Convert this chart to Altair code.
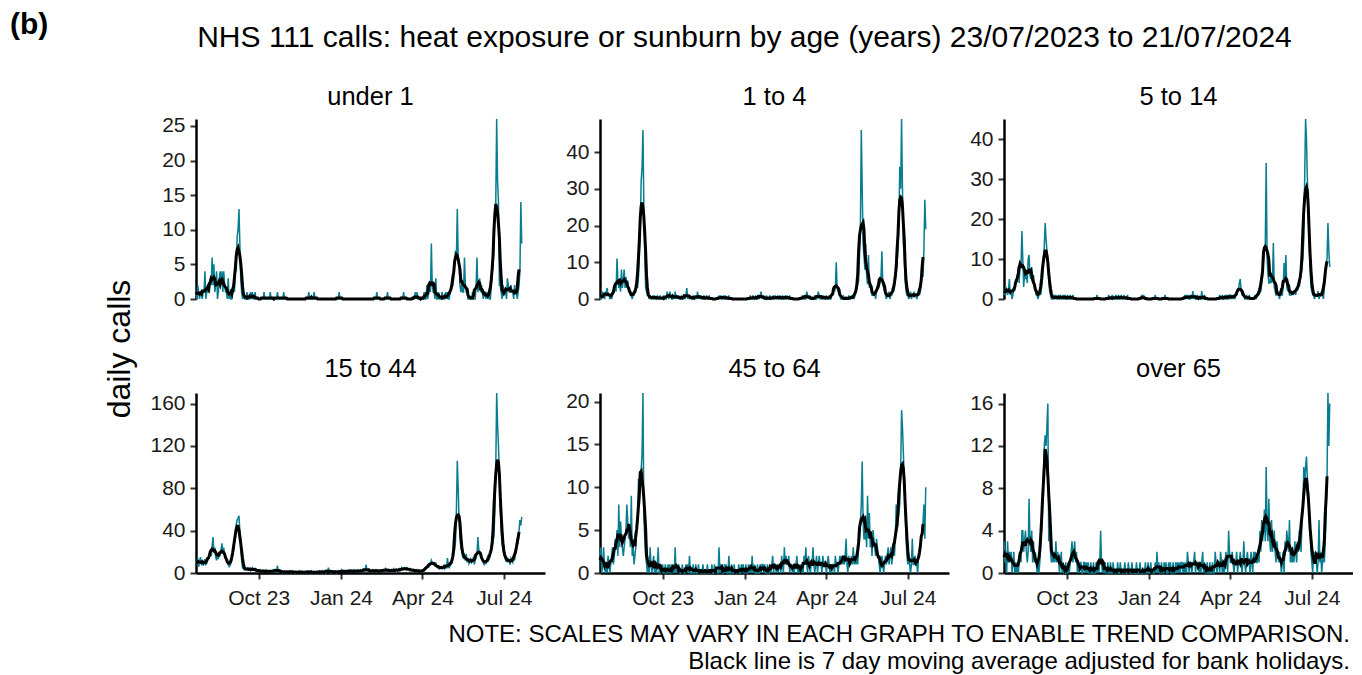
import altair as alt
import pandas as pd

FONT = "Liberation Sans"
TEAL = "#087d90"
START = "2023-07-23"

PANELS = ["under 1", "1 to 4", "5 to 14", "15 to 44", "45 to 64", "over 65"]
Y_TICKS = [
    [0, 5, 10, 15, 20, 25],
    [0, 10, 20, 30, 40],
    [0, 10, 20, 30, 40],
    [0, 40, 80, 120, 160],
    [0, 5, 10, 15, 20],
    [0, 4, 8, 12, 16],
]
X_TICKS = ["2023-10-01", "2024-01-01", "2024-04-01", "2024-07-01"]

# daily calls, 23/07/2023 .. 21/07/2024 (one row per week)
UNDER_1 = """
1 0 2 1 0 1 1
0 1 1 4 0 1 1
2 1 3 2 6 2 5
1 2 4 0 1 3 4
2 4 1 4 2 1 1
0 3 0 1 0 0 1
2 1 5 4 9 10 13
8 3 1 0 1 0 0
0 1 0 0 0 1 0
1 0 0 1 0 0 0
0 0 0 0 0 0 1
0 0 0 0 0 0 1
0 0 0 0 0 0 0
1 0 0 0 0 0 0
1 0 0 0 0 0 0
0 0 0 0 0 0 0
0 0 0 0 0 0 0
0 0 0 0 0 0 0
1 0 0 0 0 0 1
0 0 0 0 0 0 0
0 0 0 0 0 0 0
0 0 0 0 0 0 0
0 0 0 0 0 0 1
0 0 0 0 0 0 0
0 0 0 0 0 0 0
0 0 0 0 0 0 0
0 0 0 0 0 0 0
0 0 0 0 0 0 0
0 0 0 0 0 0 1
0 0 0 0 0 0 0
0 0 0 0 1 0 0
0 0 0 0 0 0 0
0 0 0 0 0 0 0
0 1 0 0 0 0 0
0 0 0 0 0 0 0
1 0 1 0 0 0 0
0 0 0 1 0 0 2
0 1 2 1 8 2 1
1 0 3 0 0 1 0
0 0 1 0 0 0 1
0 1 0 0 1 2 2
2 3 5 7 6 13 6
5 2 1 2 1 1 6
2 1 1 0 0 0 0
0 1 0 0 0 2 6
1 2 3 1 2 1 0
1 1 0 1 0 1 0
0 2 4 5 8 12 14
26 17 14 2 2 1 0
2 1 1 1 0 3 2
1 1 2 1 1 0 2
1 1 0 1 2 4 14
8
"""

AGE_1_4 = """
0 1 0 2 1 0 1
2 3 1 1 0 1 0
1 2 3 4 2 11 5
3 4 2 8 3 5 8
3 6 4 5 2 2 1
1 0 1 1 2 3 4
3 6 12 20 32 36 46
25 13 3 2 1 1 0
1 0 0 1 0 1 0
0 1 0 0 1 0 0
0 1 0 0 0 2 1
0 2 1 0 0 1 0
2 0 1 0 1 0 0
1 0 0 1 0 1 3
0 1 0 1 0 0 1
0 0 1 0 2 0 1
0 1 0 0 1 0 0
1 0 0 1 0 0 0
0 0 0 0 0 0 0
1 0 1 0 0 1 0
1 0 0 0 1 0 0
0 0 0 0 0 0 0
0 0 0 0 0 0 0
0 0 0 0 0 0 0
1 0 0 1 0 0 1
0 0 1 0 1 2 0
1 0 0 0 1 0 0
0 1 0 0 0 1 0
1 0 0 1 0 1 0
0 1 0 0 1 0 1
0 0 1 0 0 0 0
0 0 0 0 0 0 0
0 0 1 0 1 0 0
2 1 0 1 0 0 0
0 0 1 0 0 1 2
1 0 0 1 0 1 0
0 1 0 0 1 0 0
1 1 3 2 3 10 3
2 2 1 0 0 0 1
0 0 0 0 0 1 0
0 1 0 1 0 1 2
3 4 5 12 20 46 30
15 12 8 15 6 4 12
3 4 2 1 1 1 2
0 2 4 3 5 4 6
13 4 3 2 1 0 1
1 2 0 1 1 3 2
3 5 7 10 14 20 36
30 49 30 15 12 5 2
1 1 0 1 2 0 1
1 2 1 1 0 1 2
1 2 4 8 6 14 27
19
"""

AGE_5_14 = """
2 1 3 2 1 2 5
1 2 0 1 3 2 5
4 6 8 4 9 8 17
10 3 6 5 6 4 10
11 6 5 8 4 6 3
2 1 1 0 1 2 1
3 5 10 13 19 15 12
10 5 2 1 0 0 0
1 0 1 0 0 1 0
1 0 0 1 0 1 0
0 1 0 0 1 0 0
1 0 0 0 0 0 0
0 0 0 0 0 0 0
0 0 0 0 0 0 0
0 0 0 0 0 0 1
0 0 0 0 0 0 0
0 0 0 0 0 1 0
0 0 1 0 0 0 1
0 0 1 0 0 1 0
0 1 0 0 0 1 0
0 0 0 0 0 0 0
0 0 0 0 0 0 0
1 0 1 0 0 0 0
0 0 0 0 0 0 0
0 1 0 0 0 0 0
0 0 0 0 0 1 0
0 0 0 0 0 0 0
0 0 0 0 0 0 0
0 0 0 0 0 0 1
0 1 0 1 0 0 1
0 2 0 1 0 0 1
0 0 0 0 2 0 0
1 0 0 0 0 0 0
0 0 0 0 0 0 0
0 0 0 1 0 0 1
0 0 1 0 1 0 0
1 1 0 1 0 1 0
1 1 2 2 4 5 2
1 1 1 0 0 1 0
0 1 0 0 0 0 0
0 1 0 1 2 1 2
2 4 6 10 12 14 34
10 6 4 4 6 4 5
14 3 2 1 1 2 1
0 2 1 1 3 9 4
11 3 2 4 1 1 1
2 1 2 2 1 3 2
4 3 5 6 8 10 15
30 45 40 30 22 14 8
3 2 1 1 0 1 1
1 2 0 1 1 2 1
0 3 5 9 10 19 12
8
"""

AGE_15_44 = """
12 8 14 6 10 15 9
11 7 10 13 8 9 12
14 18 22 16 25 34 20
24 15 12 18 13 20 16
22 28 18 24 17 14 12
10 8 6 7 9 12 18
22 30 38 46 50 52 54
40 28 12 5 4 3 4
3 4 5 3 4 2 3
5 4 3 2 4 3 2
2 1 3 2 1 2 1
2 3 1 2 1 2 1
1 2 3 1 2 1 2
7 1 2 1 1 2 0
1 2 1 0 1 1 2
1 0 1 2 1 1 0
1 1 0 1 2 0 1
1 0 1 1 0 1 2
1 1 0 2 1 0 1
0 1 1 0 1 2 1
1 0 2 1 1 0 1
2 5 1 1 0 1 2
1 2 1 0 1 1 2
1 1 3 1 2 1 1
2 1 2 3 1 2 1
2 3 1 2 1 2 3
1 2 3 2 1 3 2
2 8 3 2 1 2 3
2 1 3 2 2 3 1
2 3 2 1 2 3 2
3 2 4 2 3 2 3
2 3 1 2 4 3 2
3 2 3 4 2 3 5
3 4 5 4 3 5 4
3 2 4 3 2 3 2
2 3 1 2 3 2 1
2 1 3 2 4 5 6
7 6 9 8 12 10 9
8 7 10 6 5 6 4
5 6 4 5 7 4 6
5 14 6 5 7 8 10
14 18 22 30 60 106 80
50 35 24 20 15 14 16
12 18 10 14 9 11 13
10 12 15 8 12 14 18
34 22 20 16 14 12 10
8 10 9 12 15 12 14
18 22 25 30 35 60 100
170 140 120 95 64 40 28
22 18 15 12 14 10 13
11 8 14 12 10 15 12
18 25 30 28 40 50 45
53
"""

AGE_45_64 = """
2 3 0 1 3 1 0
1 0 2 1 0 1 2
3 1 2 4 3 5 2
8 3 6 4 3 2 3
4 5 8 6 4 5 3
9 2 3 1 2 3 5
6 11 8 10 12 14 21
7 4 2 1 0 1 0
3 1 0 1 2 0 1
0 1 3 0 0 1 0
1 0 0 1 0 0 1
0 1 0 0 0 1 0
3 0 1 0 1 0 0
0 1 0 0 0 1 0
1 0 2 0 0 0 1
0 0 1 0 0 1 0
0 0 0 1 0 0 0
0 1 0 0 0 0 1
0 0 1 0 0 0 0
3 0 1 0 0 0 1
0 1 0 0 2 0 0
1 0 0 1 0 0 0
0 1 0 0 1 0 1
0 0 1 0 0 1 0
1 0 2 0 1 0 0
0 1 0 0 1 0 1
1 0 1 0 0 1 0
0 1 0 1 2 0 1
1 0 1 0 1 1 0
2 1 0 3 1 2 1
1 2 0 1 1 0 1
0 1 1 2 0 1 0
1 0 1 0 2 1 3
1 0 2 1 0 1 1
3 1 0 1 2 0 1
2 1 1 0 2 1 1
1 0 1 2 1 0 1
0 1 1 0 2 1 1
0 1 2 1 2 1 2
1 2 4 1 0 2 1
1 2 1 3 1 2 1
2 1 3 4 6 8 13
6 4 4 5 3 9 4
7 3 4 2 5 4 3
2 4 3 2 1 0 1
2 1 0 1 2 1 2
3 1 2 3 1 2 3
2 4 8 5 6 7 8
12 19 17 14 11 8 4
2 1 2 1 0 1 4
1 1 2 1 1 0 2
2 3 4 5 6 8 4
10
"""

OVER_65 = """
3 1 2 0 3 1 2
1 2 0 1 2 0 1
0 1 0 1 2 1 4
4 2 3 4 2 1 2
7 3 2 4 1 3 1
2 1 0 1 0 1 3
4 6 9 12 13 12 14
16 3 4 2 1 2 1
2 1 3 1 2 1 0
1 2 0 1 0 0 1
0 0 1 0 1 2 3
1 2 3 1 2 0 1
0 1 1 0 0 1 1
0 1 0 1 0 0 1
0 0 1 0 0 1 0
1 0 1 4 1 0 1
0 1 0 0 1 0 0
1 0 0 1 0 0 0
0 1 0 0 1 0 0
0 0 1 0 0 0 1
0 0 0 1 0 0 0
0 1 0 0 0 1 0
0 0 0 0 1 0 0
1 0 0 1 0 0 0
0 1 0 2 0 1 0
0 1 0 0 1 0 1
0 0 1 0 1 0 0
1 0 0 1 0 1 0
1 0 1 1 0 1 0
1 0 2 1 0 1 1
0 1 1 2 0 1 1
1 0 1 0 1 2 0
1 0 0 1 0 0 1
0 0 1 0 0 2 1
0 1 1 0 2 1 0
1 0 1 2 1 0 4
2 1 1 2 1 0 1
1 2 0 1 1 2 1
0 1 3 1 0 1 2
1 1 0 2 1 0 2
1 2 1 1 2 1 4
2 5 3 4 6 3 10
4 3 7 3 2 5 2
3 4 2 1 3 2 1
2 1 0 1 2 0 3
2 4 3 2 5 1 2
1 2 1 3 2 1 3
2 4 3 2 5 6 10
8 10 11 9 8 6 4
2 1 0 2 1 2 1
0 1 5 1 2 0 1
2 1 3 6 9 17 12
16
"""

SERIES = [UNDER_1, AGE_1_4, AGE_5_14, AGE_15_44, AGE_45_64, OVER_65]

TITLE = "NHS 111 calls: heat exposure or sunburn by age (years) 23/07/2023 to 21/07/2024"
NOTE_1 = "NOTE: SCALES MAY VARY IN EACH GRAPH TO ENABLE TREND COMPARISON."
NOTE_2 = "Black line is 7 day moving average adjusted for bank holidays."

W, H = 349, 180
dates = pd.date_range(START, periods=365, freq="D")
date_str = [d.strftime("%Y-%m-%dT00:00:00Z") for d in dates]


def utc(s):
    y, m, d = (int(p) for p in s.split("-"))
    return alt.DateTime(year=y, month=m, date=d, utc=True)


def label(text, x, y, size, weight="normal", align="center", baseline="alphabetic", angle=0):
    return alt.Chart(pd.DataFrame({"t": [text]})).mark_text(
        align=align, baseline=baseline, fontSize=size, fontWeight=weight,
        font=FONT, color="#000000", angle=angle,
    ).encode(text="t:N", x=alt.value(x), y=alt.value(y))


panels = []
for i, (name, raw, ticks) in enumerate(zip(PANELS, SERIES, Y_TICKS)):
    vals = [int(v) for v in raw.split()]
    assert len(vals) == 365, (name, len(vals))
    s = pd.Series(vals, dtype=float)
    ma = s.rolling(7, center=True, min_periods=4).mean()
    ma.iloc[362:] = float("nan")
    df = pd.DataFrame({"date": date_str, "calls": vals, "ma": ma})
    bottom = i >= 3
    if bottom:
        xaxis = alt.Axis(
            values=[utc(t) for t in X_TICKS],
            labelExpr="utcFormat(datum.value, '%b %y')",
            title=None, grid=False, domainColor="#000000", domainWidth=2.5,
            tickColor="#333333", tickWidth=2, tickSize=6, labelPadding=8,
            labelFontSize=21, labelFont=FONT, labelColor="#1a1a1a",
        )
    else:
        xaxis = None
    x = alt.X(
        "date:T",
        scale=alt.Scale(type="utc", domain=[utc("2023-07-23"), utc("2024-08-16")]),
        axis=xaxis,
    )
    y_scale = alt.Scale(domain=[0, max(vals)], nice=False)
    yaxis = alt.Axis(
        values=ticks, title=None, grid=False, domainColor="#000000", domainWidth=2.5,
        tickColor="#333333", tickWidth=2, tickSize=6, labelPadding=5,
        labelFontSize=21, labelFont=FONT, labelColor="#1a1a1a",
    )
    base = alt.Chart(df)
    daily = base.mark_line(color=TEAL, strokeWidth=1.5).encode(
        x=x, y=alt.Y("calls:Q", scale=y_scale, axis=yaxis)
    )
    avg = base.mark_line(color="#000000", strokeWidth=3).encode(
        x=x, y=alt.Y("ma:Q", scale=y_scale, axis=yaxis)
    )
    layers = [daily, avg, label(name, W / 2, -16 if bottom else -14, 25.5)]
    if i == 0:
        layers.append(label("(b)", -186, -85, 30, weight="bold", align="left"))
        layers.append(label("daily calls", -76, 230, 32, baseline="middle", angle=270))
    if i == 1:
        layers.append(label(TITLE, 144.5, -72, 30))
    if i == 5:
        layers.append(label(NOTE_1, 346, 249, 24, align="right"))
        layers.append(label(NOTE_2, 346, 276, 24, align="right"))
    panels.append(alt.layer(*layers).properties(width=W, height=H))

chart = alt.concat(
    *panels, columns=3, spacing={"row": 94, "column": 55}, bounds="flush"
).properties(
    padding={"left": 2, "top": 2, "right": 0, "bottom": 0}, background="#ffffff"
).configure_view(stroke=None)

chart.save("out.html", embed_options={"renderer": "svg", "actions": False})
